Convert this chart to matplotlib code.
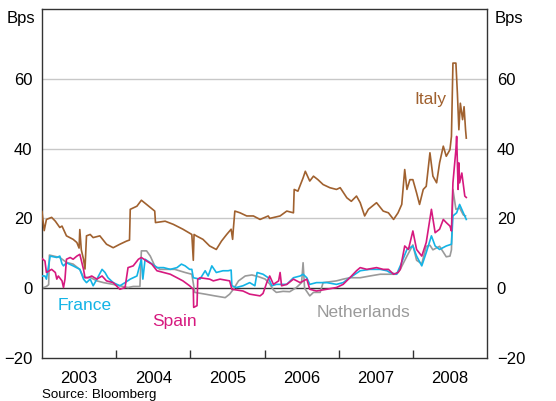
import numpy as np
import matplotlib.pyplot as plt
from matplotlib.ticker import FixedLocator, NullFormatter, FixedFormatter

plt.rcParams['font.family'] = ['Liberation Sans', 'DejaVu Sans']

# decimal years / spread in basis points
italy_t = [2003.00, 2003.03, 2003.06, 2003.13, 2003.18, 2003.24, 2003.27, 2003.33, 2003.42, 2003.47,
           2003.50, 2003.51, 2003.53, 2003.56, 2003.58, 2003.60, 2003.65, 2003.69, 2003.78, 2003.87,
           2003.96, 2004.05, 2004.14, 2004.18, 2004.19, 2004.28, 2004.34, 2004.41, 2004.52, 2004.53,
           2004.66, 2004.77, 2004.90, 2005.02, 2005.04, 2005.05, 2005.08, 2005.17, 2005.26, 2005.35,
           2005.42, 2005.49, 2005.55, 2005.57, 2005.58, 2005.60, 2005.67, 2005.76, 2005.85, 2005.94,
           2006.05, 2006.07, 2006.21, 2006.30, 2006.39, 2006.40, 2006.45, 2006.52, 2006.55, 2006.61,
           2006.66, 2006.72, 2006.79, 2006.88, 2006.97, 2007.02, 2007.11, 2007.17, 2007.24, 2007.29,
           2007.35, 2007.40, 2007.51, 2007.60, 2007.67, 2007.74, 2007.80, 2007.85, 2007.89, 2007.92,
           2007.96, 2008.00, 2008.05, 2008.09, 2008.14, 2008.18, 2008.23, 2008.27, 2008.32, 2008.36,
           2008.41, 2008.45, 2008.50, 2008.52, 2008.54, 2008.58, 2008.60, 2008.62, 2008.64, 2008.67,
           2008.69, 2008.71, 2008.72]
italy_v = [22.0, 16.5, 19.7, 20.3, 19.2, 17.4, 17.8, 15.0, 14.0, 13.1,
           11.5, 16.8, 11.0, 8.3, 5.5, 15.0, 15.4, 14.5, 15.0, 12.6,
           11.6, 12.6, 13.5, 13.8, 22.6, 23.5, 25.2, 24.0, 22.1, 18.8,
           19.2, 18.3, 16.9, 15.4, 8.0, 15.4, 15.0, 14.0, 12.1, 11.1,
           13.5, 15.4, 16.9, 14.0, 17.0, 22.1, 21.6, 20.7, 20.7, 19.7,
           20.7, 20.0, 20.7, 22.1, 21.6, 28.3, 27.8, 31.6, 33.5, 30.7,
           32.1, 31.1, 29.7, 28.8, 28.3, 28.8, 25.9, 24.9, 26.4, 24.5,
           20.7, 22.6, 24.5, 22.1, 21.6, 19.7, 21.6, 24.0, 34.0, 28.3,
           31.1, 31.1, 27.3, 24.0, 28.3, 29.2, 38.8, 32.1, 30.2, 35.9,
           40.7, 37.8, 39.7, 43.5, 64.5, 64.5, 55.9, 45.4, 53.0, 48.3,
           52.0, 45.4, 43.0]

spain_t = [2003.00, 2003.04, 2003.06, 2003.13, 2003.18, 2003.20, 2003.22, 2003.27, 2003.29, 2003.31,
           2003.33, 2003.38, 2003.42, 2003.47, 2003.51, 2003.56, 2003.58, 2003.62, 2003.67, 2003.74,
           2003.81, 2003.87, 2003.96, 2004.05, 2004.12, 2004.16, 2004.23, 2004.30, 2004.34, 2004.41,
           2004.48, 2004.55, 2004.64, 2004.73, 2004.82, 2004.90, 2004.99, 2005.04, 2005.045, 2005.09,
           2005.10, 2005.13, 2005.26, 2005.31, 2005.40, 2005.53, 2005.56, 2005.71, 2005.80, 2005.94,
           2005.98, 2006.03, 2006.07, 2006.12, 2006.19, 2006.21, 2006.23, 2006.30, 2006.39, 2006.48,
           2006.57, 2006.61, 2006.70, 2006.84, 2006.97, 2007.06, 2007.15, 2007.24, 2007.29, 2007.38,
           2007.51, 2007.60, 2007.67, 2007.74, 2007.80, 2007.83, 2007.89, 2007.94, 2008.00, 2008.05,
           2008.12, 2008.18, 2008.25, 2008.30, 2008.36, 2008.41, 2008.45, 2008.50, 2008.52, 2008.54,
           2008.58, 2008.59, 2008.61, 2008.62, 2008.63, 2008.66, 2008.70, 2008.72]
spain_v = [8.5, 7.8, 4.5, 5.4, 4.5, 2.6, 3.5, 2.1, 0.2, 2.6,
           8.3, 8.8, 8.3, 9.2, 9.7, 5.4, 3.0, 3.0, 3.5, 2.6,
           3.5, 2.1, 1.6, -0.3, 0.2, 5.9, 6.4, 8.3, 8.8, 7.8,
           6.9, 5.0, 4.5, 4.0, 3.0, 2.1, 0.7, -0.3, -5.5, -5.0,
           2.6, 3.0, 2.6, 2.1, 2.6, 2.1, -0.3, -0.8, -1.7, -2.2,
           -1.5, 1.6, 3.5, 1.1, 2.1, 4.5, 0.7, 1.1, 2.6, 1.6,
           2.6, -0.3, -0.8, -0.3, 0.2, 1.1, 3.0, 5.0, 5.9, 5.4,
           5.9, 5.4, 5.4, 4.0, 4.5, 5.4, 12.1, 11.1, 16.4, 11.1,
           9.2, 13.1, 22.6, 15.9, 16.9, 19.7, 18.8, 17.8, 16.4, 30.2,
           39.7, 43.5, 28.3, 35.9, 30.2, 33.0, 26.4, 26.0]

france_t = [2003.00, 2003.04, 2003.06, 2003.11, 2003.20, 2003.24, 2003.27, 2003.29, 2003.33, 2003.42,
            2003.51, 2003.56, 2003.60, 2003.65, 2003.69, 2003.74, 2003.81, 2003.85, 2003.89, 2003.96,
            2004.05, 2004.12, 2004.19, 2004.28, 2004.34, 2004.36, 2004.39, 2004.46, 2004.55, 2004.64,
            2004.73, 2004.82, 2004.88, 2004.93, 2004.99, 2005.02, 2005.04, 2005.13, 2005.20, 2005.24,
            2005.29, 2005.35, 2005.44, 2005.51, 2005.55, 2005.56, 2005.62, 2005.71, 2005.80, 2005.87,
            2005.90, 2005.98, 2006.05, 2006.10, 2006.16, 2006.30, 2006.39, 2006.48, 2006.52, 2006.57,
            2006.61, 2006.70, 2006.84, 2006.97, 2007.06, 2007.15, 2007.29, 2007.42, 2007.56, 2007.65,
            2007.69, 2007.78, 2007.83, 2007.92, 2008.00, 2008.05, 2008.12, 2008.18, 2008.25, 2008.30,
            2008.36, 2008.45, 2008.52, 2008.54, 2008.59, 2008.63, 2008.68, 2008.72]
france_v = [3.5, 3.5, 2.6, 9.2, 8.8, 9.2, 7.0, 6.4, 7.3, 6.4,
            5.4, 2.6, 1.6, 2.6, 0.7, 2.6, 5.4, 4.5, 3.0, 1.6,
            0.7, 1.6, 2.6, 3.5, 8.3, 2.6, 8.3, 7.3, 5.9, 5.9,
            5.4, 5.9, 6.9, 6.4, 5.4, 5.4, 3.0, 2.6, 5.0, 3.5,
            6.4, 4.5, 5.0, 5.0, 5.2, 0.7, 0.2, 0.7, 1.6, 0.7,
            4.5, 4.0, 3.0, 0.7, 1.1, 1.1, 3.0, 3.5, 4.0, 3.0,
            1.1, 1.6, 1.6, 1.1, 1.6, 3.0, 5.0, 5.4, 5.4, 5.0,
            4.5, 4.0, 6.4, 11.1, 12.1, 9.2, 6.4, 10.2, 15.0, 12.1,
            11.1, 12.1, 12.6, 20.7, 21.6, 24.0, 21.6, 19.7]

nl_t = [2003.00, 2003.06, 2003.09, 2003.10, 2003.24, 2003.33, 2003.42, 2003.51, 2003.56, 2003.65,
        2003.74, 2003.83, 2003.96, 2004.05, 2004.16, 2004.23, 2004.32, 2004.34, 2004.41, 2004.46,
        2004.52, 2004.59, 2004.66, 2004.79, 2004.93, 2005.02, 2005.06, 2005.20, 2005.33, 2005.47,
        2005.53, 2005.58, 2005.65, 2005.74, 2005.83, 2005.92, 2006.01, 2006.07, 2006.12, 2006.16,
        2006.25, 2006.34, 2006.43, 2006.50, 2006.52, 2006.54, 2006.61, 2006.66, 2006.75, 2006.79,
        2006.97, 2007.06, 2007.15, 2007.29, 2007.42, 2007.56, 2007.69, 2007.78, 2007.83, 2007.92,
        2008.00, 2008.05, 2008.12, 2008.18, 2008.23, 2008.27, 2008.36, 2008.45, 2008.50, 2008.52,
        2008.54, 2008.58, 2008.63, 2008.68, 2008.71]
nl_v = [0.0, 0.5, 1.0, 9.5, 8.8, 7.4, 6.9, 5.4, 3.1, 3.1,
        2.1, 1.6, 1.1, 0.7, 0.2, 0.5, 0.5, 10.7, 10.7, 9.2,
        6.4, 5.4, 5.4, 5.4, 4.5, 4.0, -1.2, -1.7, -2.2, -2.7,
        -1.7, -0.3, 2.1, 3.5, 3.8, 3.3, 2.6, 1.2, -0.5, -1.2,
        -0.9, -1.0, 0.2, 1.6, 7.3, 0.0, -2.2, -1.2, -1.2, 1.6,
        2.1, 2.6, 3.0, 3.0, 3.5, 4.0, 4.0, 4.0, 5.4, 9.2,
        12.4, 8.0, 7.0, 12.0, 12.3, 11.0, 12.0, 9.0, 9.2, 11.0,
        28.3, 22.6, 23.0, 21.0, 20.7]

years = [2003, 2004, 2005, 2006, 2007, 2008]
yticks = [-20, 0, 20, 40, 60]

c_italy = '#a0612f'
c_spain = '#d6197f'
c_france = '#14b4e6'
c_nl = '#9a9a9a'

fig = plt.figure(figsize=(5.56, 4.01), dpi=100)
ax = fig.add_axes([0.0755, 0.1072, 0.8005, 0.8704])

for v in [20, 40, 60]:
    ax.axhline(v, color='#c8c8c8', lw=1.0, zorder=0)
ax.axhline(0, color='#333333', lw=1.0, zorder=1)

ax.plot(nl_t, nl_v, color=c_nl, lw=1.2, zorder=2)
ax.plot(france_t, france_v, color=c_france, lw=1.2, zorder=3)
ax.plot(spain_t, spain_v, color=c_spain, lw=1.2, zorder=4)
ax.plot(italy_t, italy_v, color=c_italy, lw=1.2, zorder=5)

ax.text(2008.23, 54, 'Italy', color=c_italy, fontsize=12.5, ha='center', va='center')
ax.text(2003.58, -5, 'France', color=c_france, fontsize=12.5, ha='center', va='center')
ax.text(2004.79, -9.5, 'Spain', color=c_spain, fontsize=12.5, ha='center', va='center')
ax.text(2007.33, -7, 'Netherlands', color=c_nl, fontsize=12.5, ha='center', va='center')

ax.set_xlim(2003, 2009)
ax.set_ylim(-20, 80)

ax.xaxis.set_major_locator(FixedLocator([y + 1 for y in years[:-1]]))
ax.xaxis.set_major_formatter(NullFormatter())
ax.xaxis.set_minor_locator(FixedLocator([y + 0.5 for y in years]))
ax.xaxis.set_minor_formatter(FixedFormatter([str(y) for y in years]))
ax.tick_params(axis='x', which='major', direction='in', length=6, width=1, color='#333333')
ax.tick_params(axis='x', which='minor', length=0, pad=9, labelsize=12)

ax.set_yticks(yticks)
ax.tick_params(axis='y', which='both', length=0, labelsize=12, pad=7,
               left=True, right=True, labelleft=True, labelright=True)

for s in ax.spines.values():
    s.set_color('#333333')
    s.set_linewidth(1.0)

fig.text(0.064, 0.955, 'Bps', fontsize=12, ha='right', va='center')
fig.text(0.889, 0.955, 'Bps', fontsize=12, ha='left', va='center')
fig.text(0.0755, 0.0075, 'Source: Bloomberg', fontsize=9.6, ha='left', va='baseline')

fig.savefig('out.png', dpi=100)
